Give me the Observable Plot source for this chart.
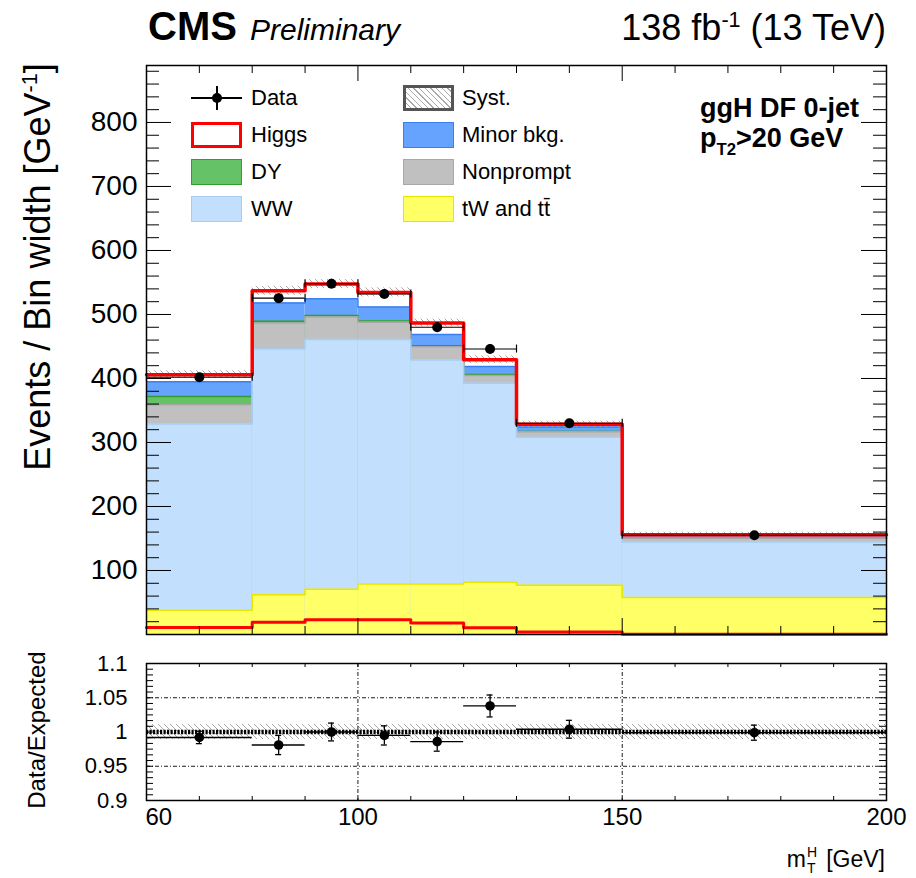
<!DOCTYPE html>
<html><head><meta charset="utf-8">
<script src="https://cdn.jsdelivr.net/npm/d3@7"></script>
<script src="https://cdn.jsdelivr.net/npm/@observablehq/plot@0.6"></script>
<style>
body{margin:0;background:#fff;font-family:"Liberation Sans",Arial,Helvetica,sans-serif;}
#wrap{position:relative;width:916px;height:878px;overflow:hidden;}
#wrap svg{position:absolute;left:0;}
.t{position:absolute;white-space:nowrap;line-height:1;color:#000;}
.sup{font-size:60%;position:relative;top:-0.6em;line-height:0;}
.sw{position:absolute;box-sizing:border-box;}
</style></head><body><div id="wrap"></div>
<script>
// ---------------- data ----------------
const binEdges   = [60, 80, 90, 100, 110, 120, 130, 150, 200];
const binCenters = [70, 85, 95, 105, 115, 125, 140, 175];
const tWtt       = [38, 62, 70.6, 79, 79, 81.6, 77, 58];
const WW         = [291, 384, 390.4, 382, 350, 311, 231, 86.5];
const nonprompt  = [30, 40.5, 35, 27, 20.5, 12, 8.7, 6];
const DY         = [13, 3, 2.5, 2, 1.5, 1.6, 0.6, 0.3];
const minorBkg   = [23, 28.5, 26, 21.5, 17.7, 12.5, 7, 4.5];
const higgs      = [11, 19, 23, 23, 18, 10.5, 4, 0.5];
const dataVals   = [402, 525.5, 548, 532, 480, 446, 330, 155];
const dataErr    = [4, 7, 7, 7, 7, 7, 4, 2];
const systErr    = [6, 7, 7, 7, 6, 6, 5, 4];
const ratioVals  = [0.992, 0.981, 1.000, 0.995, 0.986, 1.038, 1.004, 0.999];
const ratioErr   = [0.009, 0.014, 0.013, 0.014, 0.014, 0.016, 0.013, 0.011];
const ratioSyst  = [0.011, 0.011, 0.011, 0.011, 0.011, 0.011, 0.011, 0.011];
const mainYTicks = [100, 200, 300, 400, 500, 600, 700, 800];
const ratioYTicks = [0.9, 0.95, 1, 1.05, 1.1];
const ratioYLabels = ["0.9", "0.95", "1", "1.05", "1.1"];
const xTickLabels = [60, 100, 150, 200];
const legendNames = ["Data", "Syst.", "Higgs", "Minor bkg.", "DY", "Nonprompt", "WW", "tW and t\u0074\u0304"];

// ---------------- layout / style ----------------
const W = 916, MAIN_H = 650, RATIO_H = 228, ML = 146, MR = 30;
const MAIN_MT = 65, MAIN_MB = 16, R_MT = 13, R_MB = 78;
const Y_MAX = 889;
const ux = (200 - 60) / (W - ML - MR);
const uy = Y_MAX / (MAIN_H - MAIN_MT - MAIN_MB);
const uyR = 0.2 / (RATIO_H - R_MT - R_MB);
const FONT = "Liberation Sans, Arial, Helvetica, sans-serif";

const comps = [
  {vals: tWtt,      fill: "#ffff66", line: "#e6e600"},
  {vals: WW,        fill: "#c2e0fd", line: "#a5cdf5"},
  {vals: nonprompt, fill: "#c0c0c0", line: "#a8a8a8"},
  {vals: DY,        fill: "#66c266", line: "#2f9e2f"},
  {vals: minorBkg,  fill: "#66a3ff", line: "#3a7ff2"}
];
const cum = [];
comps.forEach((c, k) => cum.push(c.vals.map((v, i) => v + (k ? cum[k-1][i] : 0))));
const totals = cum[cum.length-1].map((v, i) => v + higgs[i]);

const bins = binCenters.map((c, i) => ({i, lo: binEdges[i], hi: binEdges[i+1], c,
  data: dataVals[i], err: dataErr[i], tot: totals[i], syst: systErr[i],
  r: ratioVals[i], rerr: ratioErr[i], rsyst: ratioSyst[i]}));

function stepPoints(tops) {
  const pts = [];
  tops.forEach((t, i) => { pts.push({x: binEdges[i], y: t}); pts.push({x: binEdges[i+1], y: t}); });
  return pts;
}
function frameTicksY(values, len) {
  return [Plot.ruleY(values, {y: d => d, x1: 60, x2: 60 + len*ux, stroke: "black", strokeWidth: 1}),
          Plot.ruleY(values, {y: d => d, x1: 200 - len*ux, x2: 200, stroke: "black", strokeWidth: 1})];
}
function frameTicksX(values, len, yLo, yHi, u) {
  return [Plot.ruleX(values, {x: d => d, y1: yLo, y2: yLo + len*u, stroke: "black", strokeWidth: 1}),
          Plot.ruleX(values, {x: d => d, y1: yHi - len*u, y2: yHi, stroke: "black", strokeWidth: 1})];
}
const yMinor = d3.range(20, 889, 20).filter(v => v % 100 !== 0);
const xMinor = d3.range(70, 200, 10).filter(v => v !== 100 && v !== 150);
const xMajor = [100, 150];

// ---------------- main panel ----------------
const mainMarks = [];
for (let k = comps.length - 1; k >= 0; k--) {
  const tops = cum[k];
  mainMarks.push(Plot.rect(bins, {x1: "lo", x2: "hi", y1: 0, y2: d => tops[d.i], fill: comps[k].fill}));
  mainMarks.push(Plot.line(stepPoints(tops), {x: "x", y: "y", stroke: comps[k].line, strokeWidth: 1.5}));
}
mainMarks.push(
  Plot.line(stepPoints(higgs), {x: "x", y: "y", stroke: "#ff0000", strokeWidth: 3}),
  Plot.rect(bins, {x1: "lo", x2: "hi", y1: d => d.tot - d.syst, y2: d => d.tot + d.syst, fill: "url(#hatchM)"}),
  Plot.line(stepPoints(totals), {x: "x", y: "y", stroke: "#ff0000", strokeWidth: 3.5}),
  Plot.ruleY(bins, {y: "data", x1: "lo", x2: "hi", stroke: "black", strokeWidth: 1.1}),
  Plot.ruleX(bins, {x: "lo", y1: d => d.data - 4*uy, y2: d => d.data + 4*uy, stroke: "black", strokeWidth: 1.2}),
  Plot.ruleX(bins, {x: "hi", y1: d => d.data - 4*uy, y2: d => d.data + 4*uy, stroke: "black", strokeWidth: 1.2}),
  Plot.ruleX(bins, {x: "c", y1: d => d.data - d.err, y2: d => d.data + d.err, stroke: "black", strokeWidth: 1.5}),
  Plot.dot(bins, {x: "c", y: "data", r: 5, fill: "black", stroke: "none"}),
  ...frameTicksY(yMinor, 13),
  ...frameTicksY(mainYTicks, 25),
  ...frameTicksX(xMinor, 8, 0, Y_MAX, uy),
  ...frameTicksX(xMajor, 16, 0, Y_MAX, uy),
  Plot.frame({stroke: "black", strokeWidth: 1.5}),
  Plot.text(mainYTicks, {x: 60, y: d => d, text: d => String(d), textAnchor: "end", dx: -9, fontSize: 28, fill: "black"})
);

const mainSvg = Plot.plot({
  width: W, height: MAIN_H, marginLeft: ML, marginRight: MR, marginTop: MAIN_MT, marginBottom: MAIN_MB,
  x: {domain: [60, 200], axis: null},
  y: {domain: [0, Y_MAX], axis: null},
  style: {fontFamily: FONT, background: "white", color: "black", overflow: "visible"},
  marks: mainMarks
});

// ---------------- ratio panel ----------------
const rMinorY = d3.range(0, 25).map(j => 0.9 + j * 0.2 / 24);
const ratioSvg = Plot.plot({
  width: W, height: RATIO_H, marginLeft: ML, marginRight: MR, marginTop: R_MT, marginBottom: R_MB,
  x: {domain: [60, 200], axis: null},
  y: {domain: [0.9, 1.1], axis: null},
  style: {fontFamily: FONT, background: "white", color: "black", overflow: "visible"},
  marks: [
    Plot.rect(bins, {x1: "lo", x2: "hi", y1: d => 1 - d.rsyst, y2: d => 1 + d.rsyst, fill: "url(#hatchR)"}),
    Plot.ruleY([0.95, 1.05], {y: d => d, stroke: "black", strokeWidth: 0.9, strokeDasharray: "4,2,1,2"}),
    Plot.ruleX([100, 150], {x: d => d, stroke: "black", strokeWidth: 0.9, strokeDasharray: "4,2,1,2"}),
    Plot.ruleY([1], {y: d => d, stroke: "black", strokeWidth: 4.5, strokeDasharray: "2.2,1.3"}),
    Plot.ruleY(bins, {y: "r", x1: "lo", x2: "hi", stroke: "black", strokeWidth: 1.3}),
    Plot.ruleX(bins, {x: "c", y1: d => d.r - d.rerr, y2: d => d.r + d.rerr, stroke: "black", strokeWidth: 1.3}),
    Plot.ruleY(bins, {y: d => d.r - d.rerr, x1: d => d.c - 3*ux, x2: d => d.c + 3*ux, stroke: "black", strokeWidth: 1.3}),
    Plot.ruleY(bins, {y: d => d.r + d.rerr, x1: d => d.c - 3*ux, x2: d => d.c + 3*ux, stroke: "black", strokeWidth: 1.3}),
    Plot.dot(bins, {x: "c", y: "r", r: 4.8, fill: "black", stroke: "none"}),
    ...frameTicksY(rMinorY, 7),
    ...frameTicksX(d3.range(70, 200, 10), 4, 0.9, 1.1, uyR),
    Plot.frame({stroke: "black", strokeWidth: 1.5}),
    Plot.text(ratioYTicks, {x: 60, y: d => d, text: (d, i) => ratioYLabels[i], textAnchor: "end", dx: -19, fontSize: 22, fill: "black"}),
    Plot.text(xTickLabels.slice(1), {x: d => d, y: 0.9, text: d => String(d), dy: 17, fontSize: 24, fill: "black"}),
    Plot.text(xTickLabels.slice(0, 1), {x: d => d, y: 0.9, text: d => String(d), dy: 17, dx: -1, textAnchor: "start", fontSize: 24, fill: "black"})
  ]
});

function addHatch(svg, id, s, color, w) {
  const ns = "http://www.w3.org/2000/svg";
  const defs = document.createElementNS(ns, "defs");
  const p = document.createElementNS(ns, "pattern");
  p.setAttribute("id", id); p.setAttribute("patternUnits", "userSpaceOnUse");
  p.setAttribute("width", s); p.setAttribute("height", s);
  const path = document.createElementNS(ns, "path");
  path.setAttribute("d", `M0,0L${s},${s}M${-s/2},${s/2}L${s/2},${3*s/2}M${s/2},${-s/2}L${3*s/2},${s/2}`);
  path.setAttribute("stroke", color); path.setAttribute("stroke-width", w); path.setAttribute("fill", "none");
  p.appendChild(path); defs.appendChild(p); svg.insertBefore(defs, svg.firstChild);
}
addHatch(mainSvg, "hatchM", 6, "#a8a8a8", 1);
addHatch(ratioSvg, "hatchR", 6, "#a8a8a8", 1);

const wrap = document.getElementById("wrap");
mainSvg.style.top = "0px";
ratioSvg.style.top = MAIN_H + "px";
wrap.appendChild(mainSvg);
wrap.appendChild(ratioSvg);

// ---------------- text overlays ----------------
function addText(html, o) {
  const d = document.createElement("div");
  d.className = "t"; d.innerHTML = html;
  d.style.fontSize = o.size + "px";
  if (o.bold) d.style.fontWeight = "bold";
  if (o.italic) d.style.fontStyle = "italic";
  d.style.top = (o.base - 0.846 * o.size) + "px";
  if (o.right != null) d.style.right = (W - o.right) + "px"; else d.style.left = o.left + "px";
  wrap.appendChild(d);
  return d;
}
function addVText(html, size, baseX, cy) {
  const d = document.createElement("div");
  d.className = "t"; d.innerHTML = html; d.style.fontSize = size + "px";
  d.style.left = "0px"; d.style.top = "0px"; d.style.transformOrigin = "0 0";
  d.style.transform = `translate(${baseX - 0.846*size}px, ${cy}px) rotate(-90deg) translate(-50%, 0)`;
  wrap.appendChild(d);
}
function addBox(left, top, w, h, css) {
  const d = document.createElement("div");
  d.className = "sw";
  Object.assign(d.style, {left: left + "px", top: top + "px", width: w + "px", height: h + "px"}, css);
  wrap.appendChild(d);
}

addText("CMS", {left: 148, base: 40, size: 40, bold: true});
addText("Preliminary", {left: 250, base: 40, size: 30, italic: true});
addText('138 fb<span class="sup">-1</span> (13 TeV)', {right: 886, base: 40, size: 36});

addVText('Events / Bin width [GeV<span class="sup">-1</span>]', 36, 50, 267);
addVText("Data/Expected", 24, 45, 730);
addText('m<span style="position:relative;display:inline-block;width:0.6em;">&nbsp;<span style="position:absolute;left:1px;top:-3px;font-size:14px;">H</span><span style="position:absolute;left:1px;top:13px;font-size:14px;">T</span></span> [GeV]', {right: 885, base: 867, size: 23});

addText("ggH DF 0-jet", {left: 700, base: 118, size: 27, bold: true});
addText('p<span style="font-size:62%;position:relative;top:0.45em;line-height:0">T2</span>&gt;20 GeV', {left: 700, base: 148, size: 27, bold: true});

// legend
const rows = [98, 135, 172, 209];
const colSw = [191, 403], colTx = [251, 462];
const swStyles = [
  null,
  {border: "3px solid #555", background: "repeating-linear-gradient(45deg, #fff 0px, #fff 3px, #aaa 3px, #aaa 4px)"},
  {border: "3px solid #ff0000", background: "#fff"},
  {border: "1.5px solid #3a7ff2", background: "#66a3ff"},
  {border: "1.5px solid #2f9e2f", background: "#66c266"},
  {border: "1.5px solid #a8a8a8", background: "#c0c0c0"},
  {border: "1.5px solid #a5cdf5", background: "#c2e0fd"},
  {border: "1.5px solid #e6e600", background: "#ffff66"}
];
legendNames.forEach((name, j) => {
  const col = j % 2, row = Math.floor(j / 2), yc = rows[row];
  if (j === 0) {
    addBox(191, yc - 0.75, 51, 1.5, {background: "black"});
    addBox(216.25, yc - 12, 1.5, 24, {background: "black"});
    addBox(212, yc - 5, 10, 10, {background: "black", borderRadius: "50%"});
  } else {
    addBox(colSw[col], yc - 13, 51, 26, swStyles[j]);
  }
  addText(name, {left: colTx[col], base: yc + 7.5, size: 22});
});
</script>
</body></html>
